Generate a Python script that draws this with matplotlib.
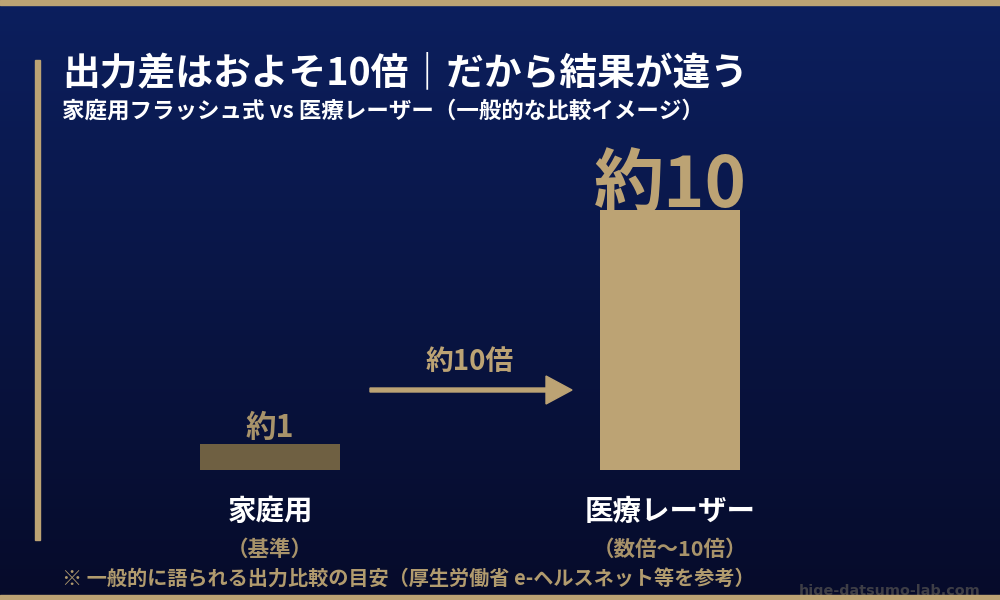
import numpy as np
from matplotlib import pyplot as plt
from matplotlib.patches import Rectangle, FancyArrow

plt.rcParams["font.family"] = ["Noto Sans CJK JP", "DejaVu Sans"]

# data
categories = ["家庭用", "医療レーザー"]
notes = ["（基準）", "（数倍～10倍）"]
values = [1, 10]
value_labels = ["約1", "約10"]
arrow_label = "約10倍"

title = "出力差はおよそ10倍｜だから結果が違う"
subtitle = "家庭用フラッシュ式 vs 医療レーザー（一般的な比較イメージ）"
footnote = "※ 一般的に語られる出力比較の目安（厚生労働省 e-ヘルスネット等を参考）"
watermark = "hige-datsumo-lab.com"

gold = "#bca374"
dark_gold = "#6f6042"

fig = plt.figure(figsize=(10, 6), dpi=100)

# background: full-figure axes in pixel coords
bg = fig.add_axes([0, 0, 1, 1])
bg.set_xlim(0, 1000)
bg.set_ylim(600, 0)
bg.axis("off")
grad = np.linspace(0, 1, 256).reshape(-1, 1)
top = np.array([12, 31, 94]) / 255
bottom = np.array([6, 11, 42]) / 255
img = top + (bottom - top) * grad[..., None]
bg.imshow(img, extent=[0, 1000, 600, 0], aspect="auto", zorder=0)

bg.add_patch(Rectangle((0, 0), 1000, 5, color=gold, zorder=1))
bg.add_patch(Rectangle((0, 595), 1000, 5, color=gold, zorder=3))
bg.add_patch(Rectangle((35, 60), 5, 480, color=gold, zorder=1))

bg.text(62, 73, title, color="white", fontsize=27.2, fontweight="bold", va="center", ha="left")
bg.text(62, 111, subtitle, color="white", fontsize=16.2, fontweight="bold", va="center", ha="left")
bg.text(62, 578, footnote, color="#b19b6e", fontsize=14.5, fontweight="bold", va="center", ha="left")
bg.text(980, 591, watermark, color="#3e3e46", fontsize=10.4, fontweight="bold",
        va="center", ha="right", family="DejaVu Sans", zorder=2)

# arrow
bg.add_patch(FancyArrow(370, 390, 202, 0, width=4, head_width=28, head_length=26,
                        length_includes_head=True, color=gold, zorder=2))
bg.text(470, 362, arrow_label, color=gold, fontsize=20, fontweight="bold", ha="center", va="center")

# bars
ax = fig.add_axes([0.2, 130 / 600, 0.54, 260 / 600])
ax.set_xlim(-0.175, 1.175)
ax.set_ylim(0, 10)
ax.axis("off")
x = np.arange(len(categories))
ax.bar(x, values, width=0.35, color=[dark_gold, gold])

label_colors = ["#a8936a", gold]
label_sizes = [22, 50.5]
label_offsets = [5, 2]
for xi, v, lab, c, s, off in zip(x, values, value_labels, label_colors, label_sizes, label_offsets):
    ax.annotate(lab, (xi, v), xytext=(0, off), textcoords="offset points", ha="center",
                va="baseline", color=c, fontsize=s, fontweight="bold", annotation_clip=False)

for xi, cat, note in zip(x, categories, notes):
    ax.annotate(cat, (xi, 0), xytext=(0, -30), textcoords="offset points", ha="center",
                va="center", color="white", fontsize=20.5, fontweight="bold", annotation_clip=False)
    ax.annotate(note, (xi, 0), xytext=(0, -57), textcoords="offset points", ha="center",
                va="center", color="#a8936a", fontsize=15.5, fontweight="bold", annotation_clip=False)

fig.savefig("out.png", dpi=100)
